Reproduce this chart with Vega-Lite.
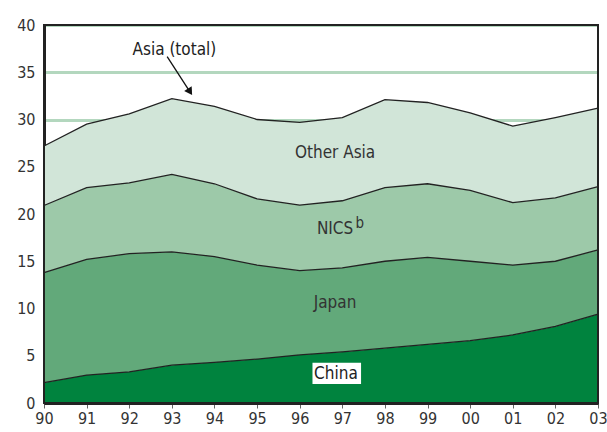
{
  "$schema": "https://vega.github.io/schema/vega-lite/v6.json",
  "width": 554,
  "height": 378,
  "autosize": "none",
  "padding": {"left": 44, "top": 25, "right": 9, "bottom": 29},
  "background": "white",
  "config": {
    "font": "Liberation Sans Narrow, DejaVu Sans Condensed, Open Sans",
    "view": {"stroke": null}
  },
  "datasets": {
    "asia": [
      {"year": 1990, "region": "China", "ord": 1, "share": 2.15},
      {"year": 1991, "region": "China", "ord": 1, "share": 2.96},
      {"year": 1992, "region": "China", "ord": 1, "share": 3.3},
      {"year": 1993, "region": "China", "ord": 1, "share": 4.0},
      {"year": 1994, "region": "China", "ord": 1, "share": 4.3},
      {"year": 1995, "region": "China", "ord": 1, "share": 4.65},
      {"year": 1996, "region": "China", "ord": 1, "share": 5.1},
      {"year": 1997, "region": "China", "ord": 1, "share": 5.4},
      {"year": 1998, "region": "China", "ord": 1, "share": 5.8},
      {"year": 1999, "region": "China", "ord": 1, "share": 6.2},
      {"year": 2000, "region": "China", "ord": 1, "share": 6.6},
      {"year": 2001, "region": "China", "ord": 1, "share": 7.2},
      {"year": 2002, "region": "China", "ord": 1, "share": 8.1},
      {"year": 2003, "region": "China", "ord": 1, "share": 9.4},
      {"year": 1990, "region": "Japan", "ord": 2, "share": 11.65},
      {"year": 1991, "region": "Japan", "ord": 2, "share": 12.24},
      {"year": 1992, "region": "Japan", "ord": 2, "share": 12.5},
      {"year": 1993, "region": "Japan", "ord": 2, "share": 12.0},
      {"year": 1994, "region": "Japan", "ord": 2, "share": 11.2},
      {"year": 1995, "region": "Japan", "ord": 2, "share": 9.95},
      {"year": 1996, "region": "Japan", "ord": 2, "share": 8.9},
      {"year": 1997, "region": "Japan", "ord": 2, "share": 8.9},
      {"year": 1998, "region": "Japan", "ord": 2, "share": 9.2},
      {"year": 1999, "region": "Japan", "ord": 2, "share": 9.2},
      {"year": 2000, "region": "Japan", "ord": 2, "share": 8.4},
      {"year": 2001, "region": "Japan", "ord": 2, "share": 7.4},
      {"year": 2002, "region": "Japan", "ord": 2, "share": 6.9},
      {"year": 2003, "region": "Japan", "ord": 2, "share": 6.8},
      {"year": 1990, "region": "NICS", "ord": 3, "share": 7.1},
      {"year": 1991, "region": "NICS", "ord": 3, "share": 7.6},
      {"year": 1992, "region": "NICS", "ord": 3, "share": 7.5},
      {"year": 1993, "region": "NICS", "ord": 3, "share": 8.2},
      {"year": 1994, "region": "NICS", "ord": 3, "share": 7.7},
      {"year": 1995, "region": "NICS", "ord": 3, "share": 7.0},
      {"year": 1996, "region": "NICS", "ord": 3, "share": 6.95},
      {"year": 1997, "region": "NICS", "ord": 3, "share": 7.1},
      {"year": 1998, "region": "NICS", "ord": 3, "share": 7.8},
      {"year": 1999, "region": "NICS", "ord": 3, "share": 7.8},
      {"year": 2000, "region": "NICS", "ord": 3, "share": 7.5},
      {"year": 2001, "region": "NICS", "ord": 3, "share": 6.6},
      {"year": 2002, "region": "NICS", "ord": 3, "share": 6.7},
      {"year": 2003, "region": "NICS", "ord": 3, "share": 6.7},
      {"year": 1990, "region": "Other Asia", "ord": 4, "share": 6.3},
      {"year": 1991, "region": "Other Asia", "ord": 4, "share": 6.7},
      {"year": 1992, "region": "Other Asia", "ord": 4, "share": 7.3},
      {"year": 1993, "region": "Other Asia", "ord": 4, "share": 8.0},
      {"year": 1994, "region": "Other Asia", "ord": 4, "share": 8.2},
      {"year": 1995, "region": "Other Asia", "ord": 4, "share": 8.4},
      {"year": 1996, "region": "Other Asia", "ord": 4, "share": 8.75},
      {"year": 1997, "region": "Other Asia", "ord": 4, "share": 8.8},
      {"year": 1998, "region": "Other Asia", "ord": 4, "share": 9.3},
      {"year": 1999, "region": "Other Asia", "ord": 4, "share": 8.6},
      {"year": 2000, "region": "Other Asia", "ord": 4, "share": 8.2},
      {"year": 2001, "region": "Other Asia", "ord": 4, "share": 8.1},
      {"year": 2002, "region": "Other Asia", "ord": 4, "share": 8.5},
      {"year": 2003, "region": "Other Asia", "ord": 4, "share": 8.3}
    ],
    "one": [{}]
  },
  "layer": [
    {
      "data": {"name": "asia"},
      "mark": {"type": "area", "opacity": 1},
      "encoding": {
        "x": {
          "field": "year", "type": "quantitative",
          "scale": {"domain": [1990, 2003], "nice": false, "zero": false},
          "axis": {
            "title": null, "values": [1990,1991,1992,1993,1994,1995,1996,1997,1998,1999,2000,2001,2002,2003],
            "labelExpr": "slice(toString(datum.value), 2)",
            "grid": false, "domainColor": "#222", "domainWidth": 3,
            "tickColor": "#666", "tickSize": 5, "labelFontSize": 16, "labelColor": "#333", "labelPadding": 2,
            "labelFlush": false
          }
        },
        "y": {
          "field": "share", "type": "quantitative", "stack": "zero",
          "scale": {"domain": [0, 40], "nice": false},
          "axis": {
            "title": null, "values": [0,5,10,15,20,25,30,35,40],
            "grid": true, "gridColor": "#b3d7be", "gridWidth": 3,
            "domainColor": "#222", "domainWidth": 3, "ticks": false,
            "labelFontSize": 16, "labelColor": "#333", "labelPadding": 9
          }
        },
        "color": {
          "field": "region", "type": "nominal",
          "scale": {"domain": ["China", "Japan", "NICS", "Other Asia"], "range": ["#00833e", "#62a97a", "#9dc9a9", "#d1e5d8"]},
          "legend": null
        },
        "order": {"field": "ord", "type": "quantitative"}
      }
    },
    {
      "data": {"name": "asia"},
      "mark": {"type": "line", "color": "#222", "strokeWidth": 1.3},
      "encoding": {
        "x": {"field": "year", "type": "quantitative"},
        "y": {"field": "share", "type": "quantitative", "stack": "zero"},
        "detail": {"field": "region", "type": "nominal"},
        "order": {"field": "ord", "type": "quantitative"}
      }
    },
    {
      "data": {"name": "one"},
      "mark": {"type": "rect", "fillOpacity": 0, "stroke": "#222", "strokeWidth": 2},
      "encoding": {
        "x": {"datum": 1990, "type": "quantitative"},
        "x2": {"datum": 2003},
        "y": {"datum": 0, "type": "quantitative"},
        "y2": {"datum": 40}
      }
    },
    {
      "data": {"name": "one"},
      "mark": {"type": "rect", "color": "white"},
      "encoding": {
        "x": {"datum": 1996.3, "type": "quantitative"},
        "x2": {"datum": 1997.44},
        "y": {"datum": 4.26, "type": "quantitative"},
        "y2": {"datum": 2.01}
      }
    },
    {
      "data": {"name": "one"},
      "mark": {"type": "text", "fontSize": 17, "color": "#222", "baseline": "middle", "align": "center"},
      "encoding": {"x": {"datum": 1996.85, "type": "quantitative"}, "y": {"datum": 3.07, "type": "quantitative"}, "text": {"value": "China"}}
    },
    {
      "data": {"name": "one"},
      "mark": {"type": "text", "fontSize": 17, "color": "#333", "baseline": "middle", "align": "center"},
      "encoding": {"x": {"datum": 1996.83, "type": "quantitative"}, "y": {"datum": 10.58, "type": "quantitative"}, "text": {"value": "Japan"}}
    },
    {
      "data": {"name": "one"},
      "mark": {"type": "text", "fontSize": 17, "color": "#333", "baseline": "middle", "align": "center"},
      "encoding": {"x": {"datum": 1996.83, "type": "quantitative"}, "y": {"datum": 18.41, "type": "quantitative"}, "text": {"value": "NICS"}}
    },
    {
      "data": {"name": "one"},
      "mark": {"type": "text", "fontSize": 15, "color": "#333", "baseline": "middle", "align": "center"},
      "encoding": {"x": {"datum": 1997.41, "type": "quantitative"}, "y": {"datum": 19.1, "type": "quantitative"}, "text": {"value": "b"}}
    },
    {
      "data": {"name": "one"},
      "mark": {"type": "text", "fontSize": 17, "color": "#333", "baseline": "middle", "align": "center"},
      "encoding": {"x": {"datum": 1996.83, "type": "quantitative"}, "y": {"datum": 26.49, "type": "quantitative"}, "text": {"value": "Other Asia"}}
    },
    {
      "data": {"name": "one"},
      "mark": {"type": "text", "fontSize": 17, "color": "#222", "baseline": "middle", "align": "center"},
      "encoding": {"x": {"datum": 1993.06, "type": "quantitative"}, "y": {"datum": 37.35, "type": "quantitative"}, "text": {"value": "Asia (total)"}}
    },
    {
      "data": {"name": "one"},
      "mark": {"type": "rule", "color": "#111", "strokeWidth": 1.3},
      "encoding": {
        "x": {"datum": 1992.89, "type": "quantitative"},
        "y": {"datum": 36.65, "type": "quantitative"},
        "x2": {"datum": 1993.41},
        "y2": {"datum": 33.04}
      }
    },
    {
      "data": {"name": "one"},
      "mark": {"type": "point", "shape": "triangle", "filled": true, "color": "#111", "size": 80, "angle": 147, "opacity": 1},
      "encoding": {
        "x": {"datum": 1993.41, "type": "quantitative"},
        "y": {"datum": 33.04, "type": "quantitative"}
      }
    }
  ]
}
